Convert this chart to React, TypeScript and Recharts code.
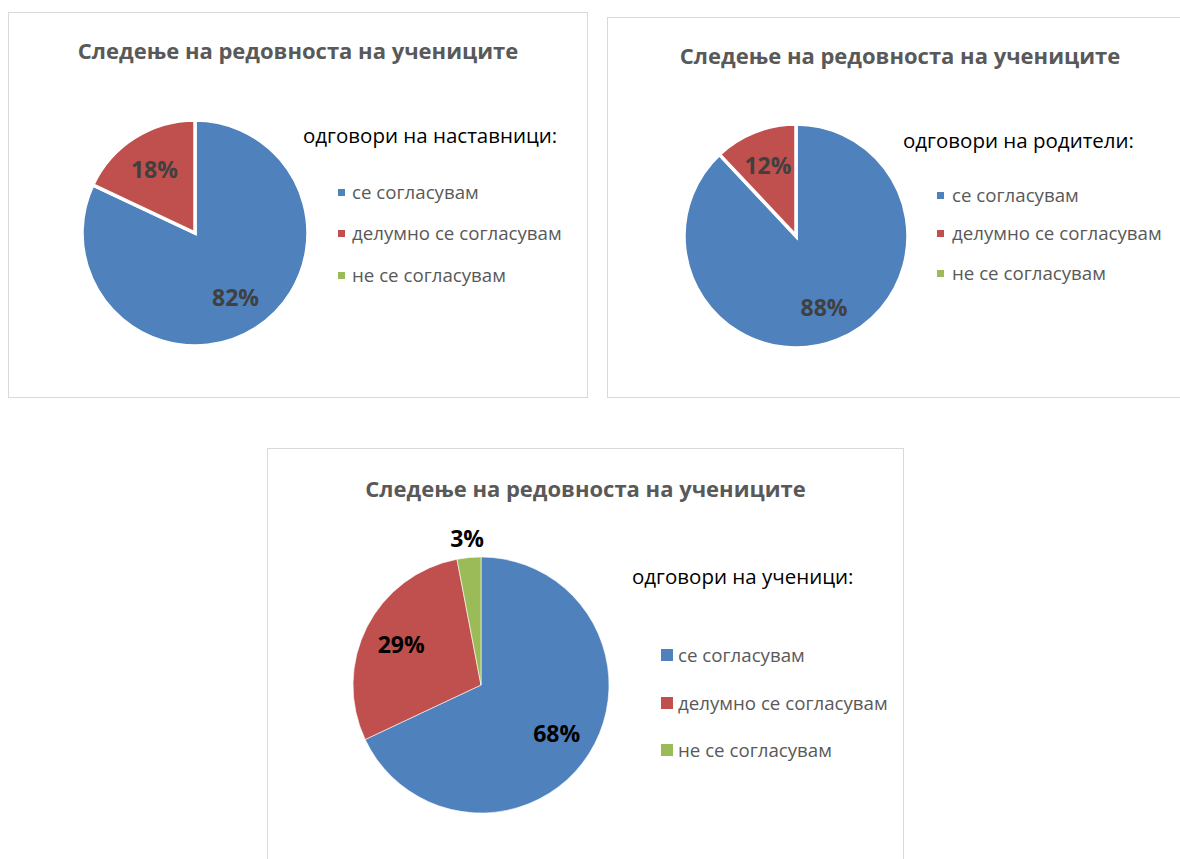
import React from "react";
import { PieChart, Pie, Cell } from "recharts";

const TITLE = "Следење на редовноста на учениците";
const CATEGORIES = ["се согласувам", "делумно се согласувам", "не се согласувам"];
const COLORS = ["#4F81BD", "#C0504D", "#9BBB59"];

const TEACHERS = [82, 18, 0];
const PARENTS = [88, 12, 0];
const STUDENTS = [68, 29, 3];

const LEGEND_TITLES = ["одговори на наставници:", "одговори на родители:", "одговори на ученици:"];

const FONT = "'Open Sans', 'Noto Sans', sans-serif";
const RAD = Math.PI / 180;

type Panel = {
  values: number[];
  legendTitle: string;
  left: number; top: number; w: number; h: number;
  cx: number; cy: number; r: number;
  titleY: number;
  legendX: number; legendTitleY: number;
  sqX: number; sqSize: number; textX: number; itemYs: number[];
  labelFactor: number; labelColor: string;
  strokeW: number;
};

const PANELS: Panel[] = [
  {
    values: TEACHERS, legendTitle: LEGEND_TITLES[0],
    left: 8, top: 12, w: 580, h: 386,
    cx: 187, cy: 221, r: 113, titleY: 37,
    legendX: 294, legendTitleY: 122,
    sqX: 329, sqSize: 7, textX: 343, itemYs: [179, 220, 262],
    labelFactor: 0.67, labelColor: "#404040", strokeW: 3.5,
  },
  {
    values: PARENTS, legendTitle: LEGEND_TITLES[1],
    left: 607, top: 17, w: 586, h: 381,
    cx: 189, cy: 219, r: 112, titleY: 37,
    legendX: 295, legendTitleY: 122,
    sqX: 329, sqSize: 7, textX: 344, itemYs: [177, 215, 255],
    labelFactor: 0.68, labelColor: "#404040", strokeW: 3.5,
  },
  {
    values: STUDENTS, legendTitle: LEGEND_TITLES[2],
    left: 267, top: 448, w: 637, h: 430,
    cx: 214, cy: 237, r: 128, titleY: 39,
    legendX: 364, legendTitleY: 127,
    sqX: 393, sqSize: 12, textX: 410, itemYs: [206, 254, 301],
    labelFactor: 0.7, labelColor: "#000000", strokeW: 0.6,
  },
];

function makeLabel(factor: number, color: string) {
  return (props: any) => {
    const { cx, cy, midAngle, outerRadius, percent, value } = props;
    if (!value) return null;
    const f = percent < 0.05 ? 1.155 : factor;
    const rr = outerRadius * f;
    const x = cx + rr * Math.cos(-midAngle * RAD);
    const y = cy + rr * Math.sin(-midAngle * RAD);
    return (
      <text x={x} y={y} textAnchor="middle" dominantBaseline="central"
        fill={color} fontSize={23} fontWeight={700} fontFamily={FONT}>
        {Math.round(percent * 100)}%
      </text>
    );
  };
}

function PiePanel({ p }: { p: Panel }) {
  const data = CATEGORIES.map((name, i) => ({ name, value: p.values[i], color: COLORS[i] }))
    .filter((d) => d.value > 0);
  return (
    <div style={{
      position: "absolute", left: p.left, top: p.top, width: p.w, height: p.h,
      boxSizing: "border-box", border: "1px solid #d9d9d9", background: "#fff",
    }}>
      <div style={{ position: "absolute", left: -1, top: -1 }}>
        <PieChart width={p.w} height={p.h} margin={{ top: 0, right: 0, bottom: 0, left: 0 }}>
          <Pie data={data} dataKey="value" nameKey="name" cx={p.cx} cy={p.cy} outerRadius={p.r}
            startAngle={90} endAngle={-270} stroke="#fff" strokeWidth={p.strokeW}
            labelLine={false} label={makeLabel(p.labelFactor, p.labelColor)} isAnimationActive={false}>
            {data.map((d) => <Cell key={d.name} fill={d.color} />)}
          </Pie>
        </PieChart>
      </div>
      <div style={{
        position: "absolute", left: 0, width: p.w - 2, top: p.titleY - 16, height: 32, lineHeight: "32px",
        textAlign: "center", fontFamily: FONT, fontWeight: 700, fontSize: 22, color: "#595959",
      }}>{TITLE}</div>
      <div style={{
        position: "absolute", left: p.legendX, top: p.legendTitleY - 15, height: 30, lineHeight: "30px",
        fontFamily: FONT, fontSize: 20.5, color: "#000", whiteSpace: "nowrap",
      }}>{p.legendTitle}</div>
      {CATEGORIES.map((c, i) => (
        <div key={c}>
          <div style={{
            position: "absolute", left: p.sqX, top: p.itemYs[i] - p.sqSize / 2,
            width: p.sqSize, height: p.sqSize, background: COLORS[i],
          }} />
          <div style={{
            position: "absolute", left: p.textX, top: p.itemYs[i] - 14, height: 28, lineHeight: "28px",
            fontFamily: FONT, fontSize: 18.7, color: "#595959", whiteSpace: "nowrap",
          }}>{c}</div>
        </div>
      ))}
    </div>
  );
}

export default function App() {
  return (
    <div style={{ position: "absolute", left: 0, top: 0, width: 1180, height: 859, overflow: "hidden", background: "#fff" }}>
      {PANELS.map((p, i) => <PiePanel key={i} p={p} />)}
    </div>
  );
}
